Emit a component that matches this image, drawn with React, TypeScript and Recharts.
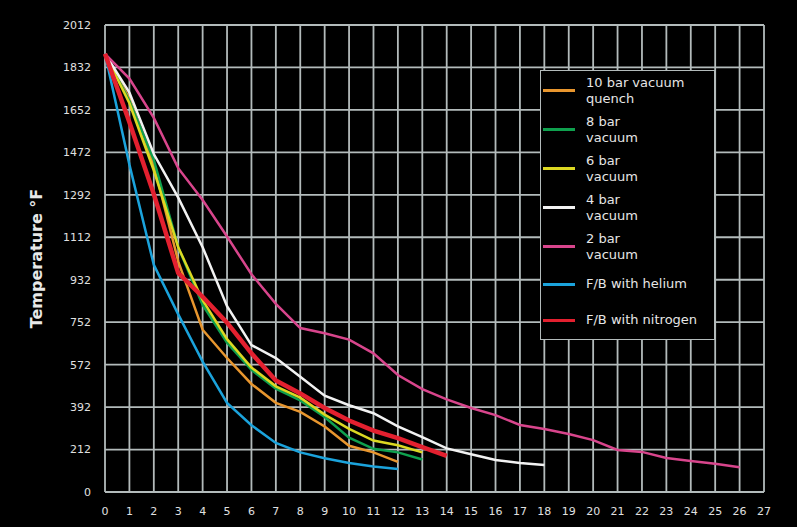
import React from 'react'
import { LineChart, Line, XAxis, YAxis, CartesianGrid } from 'recharts'

// x axis: time steps 0..27
const minutes = [0, 1, 2, 3, 4, 5, 6, 7, 8, 9, 10, 11, 12, 13, 14, 15, 16, 17, 18, 19, 20, 21, 22, 23, 24, 25, 26, 27]

// y axis is linear in °C, labelled in °F (bottom line is 0 °C = 32 °F, printed as "0")
const tempTicks = [32, 212, 392, 572, 752, 932, 1112, 1292, 1472, 1652, 1832, 2012]
const tempTickLabels = ['0', '212', '392', '572', '752', '932', '1112', '1292', '1472', '1652', '1832', '2012']

const bar10Quench = [1890, 1700, 1420, 1010, 720, 600, 490, 410, 372, 310, 228, 200, 160]
const bar8 = [1890, 1690, 1440, 1070, 825, 665, 550, 470, 420, 350, 262, 215, 200, 170]
const bar6 = [1890, 1680, 1395, 1070, 845, 680, 560, 480, 432, 360, 300, 250, 230, 200]
const bar4 = [1890, 1725, 1465, 1280, 1070, 820, 655, 600, 521, 440, 400, 366, 310, 265, 217, 192, 168, 155, 146]
const bar2 = [1890, 1785, 1618, 1405, 1270, 1115, 955, 830, 727, 705, 678, 620, 528, 468, 425, 388, 358, 316, 299, 278, 252, 210, 202, 176, 163, 152, 137]
const helium = [1890, 1420, 995, 785, 585, 410, 315, 240, 200, 175, 155, 140, 130]
const nitrogen = [1890, 1600, 1295, 960, 860, 750, 620, 505, 450, 388, 335, 292, 260, 222, 185]

const series = [
  { key: 'bar10Quench', values: bar10Quench, label: ['10 bar vacuum', 'quench'], color: '#e8962e', width: 2.5 },
  { key: 'bar8', values: bar8, label: ['8 bar', 'vacuum'], color: '#0fa04e', width: 2.5 },
  { key: 'bar6', values: bar6, label: ['6 bar', 'vacuum'], color: '#dcd822', width: 2.5 },
  { key: 'bar4', values: bar4, label: ['4 bar', 'vacuum'], color: '#f2f2f2', width: 2.5 },
  { key: 'bar2', values: bar2, label: ['2 bar', 'vacuum'], color: '#d8458c', width: 2.5 },
  { key: 'helium', values: helium, label: ['F/B with helium'], color: '#1ba3dc', width: 2.5 },
  { key: 'nitrogen', values: nitrogen, label: ['F/B with nitrogen'], color: '#e3202f', width: 4.5 },
]

const data = minutes.map((m, i) => {
  const row: Record<string, number | undefined> = { minutes: m }
  series.forEach(s => {
    row[s.key] = s.values[i]
  })
  return row
})

const FONT = '"DejaVu Sans", sans-serif'
const GRID = '#b3bbbb'
const TEXT = '#e0e0e0'

const ChartLegend = () => (
  <div style={{
    position: 'absolute',
    left: 540,
    top: 70,
    width: 175,
    height: 270,
    boxSizing: 'border-box',
    border: `1.5px solid ${GRID}`,
    background: '#000',
    fontFamily: FONT,
    fontSize: 13,
    color: '#e6e6e6',
  }}>
    {series.map(s => (
      <div key={s.key} style={{
        display: 'flex',
        alignItems: 'center',
        height: s.label.length > 1 ? 39 : 36,
      }}>
        <div style={{ width: 32, height: 3, marginLeft: 2, background: s.color }} />
        <div style={{ marginLeft: 11, lineHeight: '16px' }}>
          {s.label.map(t => <div key={t}>{t}</div>)}
        </div>
      </div>
    ))}
  </div>
)

export default function App() {
  return (
    <div style={{ position: 'absolute', left: 0, top: 0, width: 797, height: 527, background: '#000' }}>
      <LineChart
        width={797}
        height={527}
        data={data}
        margin={{ top: 25, right: 33, left: 10, bottom: 5 }}
      >
        <CartesianGrid stroke={GRID} strokeWidth={1.8} ticks={tempTicks} />
        <XAxis
          dataKey="minutes"
          type="number"
          domain={[0, 27]}
          ticks={minutes}
          interval={0}
          height={30}
          axisLine={false}
          tickLine={false}
          tickSize={0}
          tickMargin={15}
          tick={{ fill: TEXT, fontSize: 11, fontFamily: FONT }}
        />
        <YAxis
          type="number"
          domain={[32, 2012]}
          ticks={tempTicks}
          interval={0}
          width={95}
          axisLine={false}
          tickLine={false}
          tickSize={0}
          tickMargin={14}
          tickFormatter={(v: number) => tempTickLabels[tempTicks.indexOf(v)] ?? String(v)}
          tick={{ fill: TEXT, fontSize: 11, fontFamily: FONT }}
          label={{
            value: 'Temperature °F',
            angle: -90,
            position: 'insideLeft',
            offset: 26,
            style: { textAnchor: 'middle', fill: '#e8e8e8', fontSize: 16, fontWeight: 'bold', fontFamily: FONT },
          }}
        />
        {series.map(s => (
          <Line
            key={s.key}
            type="linear"
            dataKey={s.key}
            name={s.label.join(' ')}
            stroke={s.color}
            strokeWidth={s.width}
            dot={false}
            activeDot={false}
            isAnimationActive={false}
          />
        ))}
      </LineChart>
      <ChartLegend />
    </div>
  )
}
